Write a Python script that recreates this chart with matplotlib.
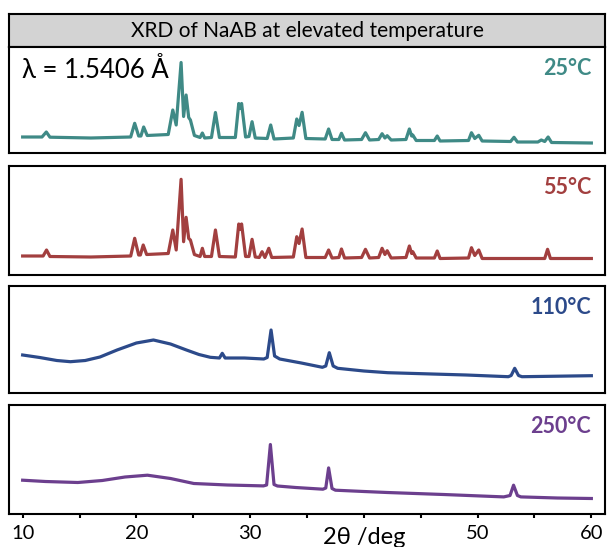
import matplotlib
matplotlib.use("Agg")
import matplotlib.pyplot as plt
from matplotlib.ticker import MultipleLocator, FixedLocator

plt.rcParams['font.family'] = ['Lato', 'DejaVu Sans']

t25_x = [10.0, 11.7, 12.08, 12.4, 16.0, 19.5, 19.85, 20.2, 20.4, 20.64, 20.95, 22.8, 23.2, 23.5,
         23.93, 24.15, 24.37, 24.6, 24.75, 25.1, 25.6, 25.8, 26.0, 26.6, 26.95, 27.3, 28.7, 29.0,
         29.12, 29.25, 29.6, 29.9, 30.17, 30.45, 31.5, 31.81, 32.1, 33.8, 34.1, 34.3, 34.57, 34.9,
         36.6, 36.9, 37.2, 37.8, 38.03, 38.3, 39.8, 40.14, 40.5, 41.3, 41.6, 41.85, 42.05, 42.4,
         43.7, 44.0, 44.2, 44.3, 44.6, 46.2, 46.45, 46.7, 49.2, 49.46, 49.75, 50.1, 50.4, 52.9,
         53.2, 53.5, 55.3, 55.6, 55.9, 56.2, 56.5, 60.0]
t25_y = [16.5, 16.5, 21.5, 16.3, 15.5, 16.5, 30.2, 17.5, 17.5, 26.5, 18.0, 19.0, 43.5, 28.5,
         91.0, 37.0, 58.5, 36.0, 33.5, 18.0, 16.0, 20.5, 15.5, 16.0, 41.0, 16.0, 16.0, 50.0,
         45.0, 50.0, 16.5, 17.0, 31.8, 15.5, 15.0, 28.5, 14.5, 15.5, 34.5, 28.0, 41.2, 15.0,
         14.5, 24.5, 14.0, 14.0, 20.2, 13.5, 14.0, 20.8, 13.5, 14.0, 19.8, 15.5, 17.8, 13.5,
         14.0, 24.5, 17.5, 18.5, 13.0, 13.0, 17.5, 12.5, 13.0, 20.8, 15.0, 18.2, 12.5, 12.0,
         16.2, 11.5, 11.5, 13.5, 12.0, 16.5, 11.0, 10.5]

t55_x = [10.0, 11.8, 12.1, 12.4, 16.0, 19.5, 19.85, 20.2, 20.35, 20.6, 20.9, 22.8, 23.2, 23.5,
         23.93, 24.15, 24.37, 24.6, 24.75, 25.1, 25.6, 25.8, 26.0, 26.6, 26.95, 27.3, 28.7, 29.0,
         29.12, 29.25, 29.6, 29.9, 30.17, 30.45, 30.8, 31.05, 31.3, 31.64, 31.9, 33.8, 34.1, 34.3,
         34.57, 34.9, 36.6, 36.9, 37.2, 37.8, 38.03, 38.3, 39.8, 40.14, 40.5, 41.3, 41.6, 41.85,
         42.05, 42.4, 43.7, 44.0, 44.2, 44.3, 44.6, 46.2, 46.45, 46.7, 49.2, 49.46, 49.75, 50.1,
         50.4, 55.9, 56.15, 56.4, 60.0]
t55_y = [18.5, 18.5, 24.5, 18.0, 17.5, 18.5, 36.2, 19.5, 19.5, 29.5, 20.0, 21.0, 44.5, 24.5,
         95.2, 32.8, 57.2, 36.0, 34.5, 20.0, 18.0, 26.2, 18.0, 18.0, 44.5, 18.0, 17.5, 50.5,
         45.0, 50.5, 18.0, 18.0, 35.2, 17.5, 17.0, 22.8, 17.0, 26.2, 17.0, 17.5, 37.8, 31.0,
         45.5, 17.0, 17.0, 24.5, 16.5, 17.0, 25.5, 16.5, 17.0, 25.2, 16.5, 17.0, 26.2, 20.0,
         23.8, 16.5, 17.0, 28.5, 21.0, 22.8, 16.5, 16.5, 23.5, 16.0, 16.5, 26.8, 19.0, 24.5,
         16.0, 16.0, 25.2, 16.0, 16.0]

t110_x = [10.0, 11.5, 13.0, 14.2, 15.5, 16.8, 18.3, 20.0, 21.5, 23.0, 24.4, 25.5, 26.5, 27.3,
          27.55, 27.8, 29.5, 31.2, 31.5, 31.84, 32.15, 32.6, 34.5, 36.35, 36.65, 36.96, 37.3,
          37.7, 40.0, 42.1, 46.0, 49.0, 52.7, 52.95, 53.26, 53.6, 53.9, 57.0, 60.0]
t110_y = [38.0, 35.5, 32.5, 31.3, 32.5, 36.0, 43.0, 50.0, 53.0, 49.0, 43.0, 38.5, 35.7, 35.0,
          39.7, 35.0, 35.0, 34.0, 35.5, 63.0, 37.0, 34.0, 30.0, 25.7, 27.0, 40.3, 27.0,
          24.7, 22.0, 20.3, 19.0, 18.0, 16.3, 17.5, 24.7, 17.5, 16.3, 16.8, 17.3]

t250_x = [10.0, 12.0, 14.85, 17.0, 19.0, 20.97, 23.0, 25.05, 28.0, 31.17, 31.45, 31.78, 32.1,
          32.4, 34.0, 36.4, 36.65, 36.9, 37.2, 37.5, 40.0, 42.06, 47.0, 52.3, 52.85, 53.16,
          53.5, 53.8, 57.0, 60.0]
t250_y = [33.3, 32.0, 31.0, 33.0, 36.5, 38.3, 35.0, 30.0, 28.5, 27.6, 28.5, 69.0, 29.0,
          27.5, 26.0, 24.3, 25.5, 45.6, 25.0, 23.3, 22.0, 21.0, 19.0, 16.6, 18.0, 28.3,
          18.0, 16.6, 15.5, 15.0]

labels = ['25°C', '55°C', '110°C', '250°C']
colors = ['#3f8a86', '#a23f3f', '#2c4a8a', '#6c3f8e']
traces = [(t25_x, t25_y), (t55_x, t55_y), (t110_x, t110_y), (t250_x, t250_y)]

xticks = [10, 20, 30, 40, 50, 60]
xtick_labels = ['10', '20', '30', '', '50', '60']

W, H = 608, 547
fig = plt.figure(figsize=(W / 100, H / 100), dpi=100)


def px_axes(top, bottom, left=9, right=605):
    return fig.add_axes([left / W, 1 - bottom / H, (right - left) / W, (bottom - top) / H])


# gray title band
band = px_axes(14, 47)
band.set_facecolor('#d3d3d3')
band.set_xticks([])
band.set_yticks([])
for s in band.spines.values():
    s.set_linewidth(1.5)
band.text(0.5, 0.47, 'XRD of NaAB at elevated temperature', transform=band.transAxes,
          ha='center', va='center', fontsize=15)

panels = [(47, 153.5), (166, 274.5), (286, 393), (405, 513.5)]
axes = []
for (top, bottom), (xs, ys), lab, col in zip(panels, traces, labels, colors):
    ax = px_axes(top, bottom)
    ax.plot(xs, ys, color=col, lw=2.3, solid_joinstyle='round')
    ax.set_xlim(8.8, 61.2)
    ax.set_ylim(0, bottom - top)
    ax.set_yticks([])
    ax.set_xticks([])
    for s in ax.spines.values():
        s.set_linewidth(1.5)
    ax.text(0.977, 0.9, lab, transform=ax.transAxes, ha='right', va='top',
            fontsize=15.5, fontweight='bold', color=col)
    axes.append(ax)

axes[0].text(0.022, 0.9, 'λ = 1.5406 Å', transform=axes[0].transAxes,
             ha='left', va='top', fontsize=18.5)

ax = axes[-1]
ax.xaxis.set_major_locator(FixedLocator(xticks))
ax.set_xticklabels(xtick_labels)
ax.xaxis.set_minor_locator(MultipleLocator(5))
ax.tick_params(axis='x', which='both', direction='out', length=3, width=1.5,
               labelsize=14.5, pad=5)
ax.text(40, -0.125, '2θ /deg', transform=ax.get_xaxis_transform(),
        ha='center', va='top', fontsize=17)

fig.savefig('out.png', dpi=100)
